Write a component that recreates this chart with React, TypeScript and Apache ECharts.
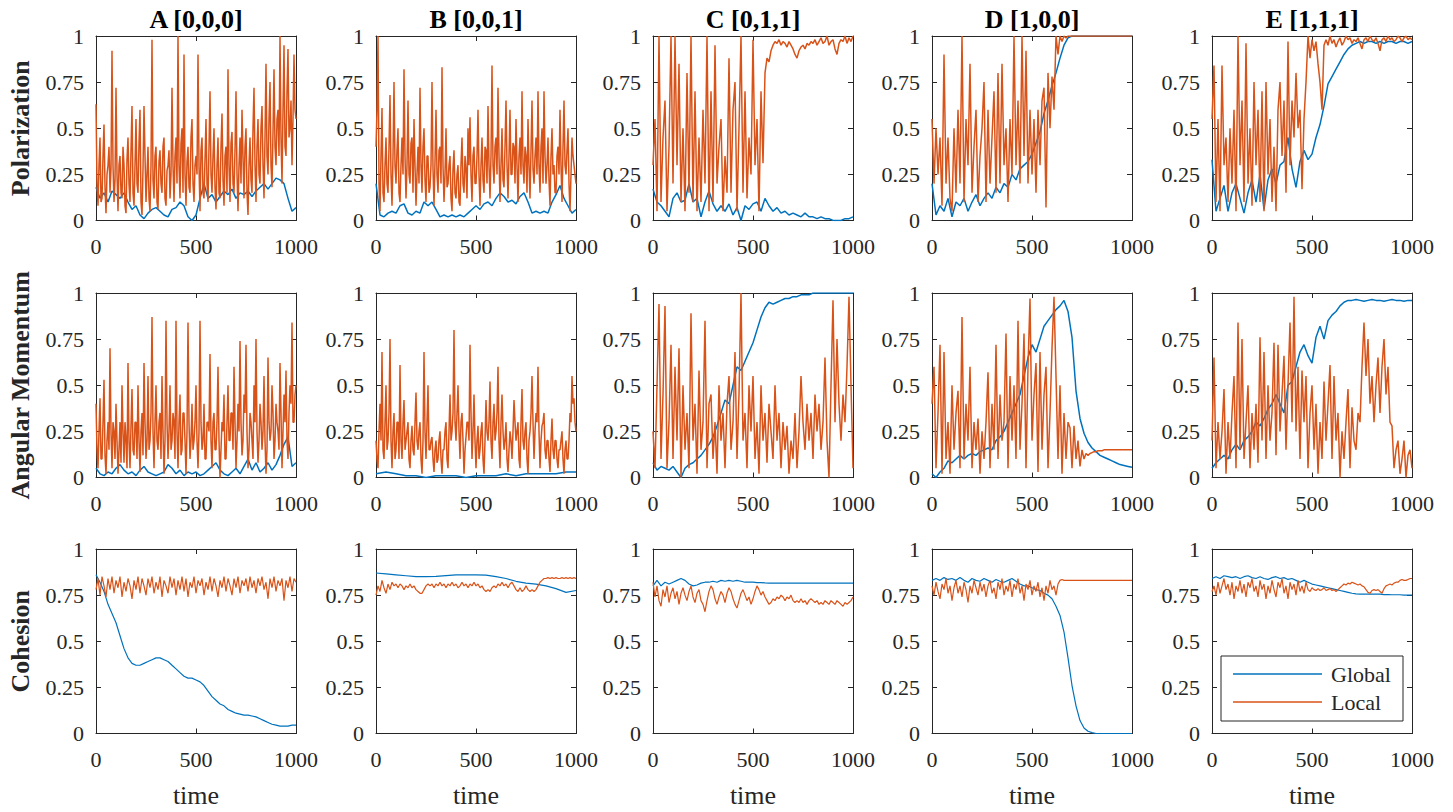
import React, { useEffect, useRef } from "react";
import * as echarts from "echarts";

const FONT = "Liberation Serif, Times New Roman, Times, serif";
const BLUE = "#0072BD";
const ORANGE = "#D95319";
const AXIS = "#262626";

const panelTitles = ["A [0,0,0]", "B [0,0,1]", "C [0,1,1]", "D [1,0,0]", "E [1,1,1]"];
const rowLabels = ["Polarization", "Angular Momentum", "Cohesion"];
const xLabel = "time";
const seriesNames = ["Global", "Local"];
const xRange = { min: 0, max: 1000, interval: 500 };
const yRange = { min: 0, max: 1, interval: 0.25 };

const A_pol_glob = [0.18,0.12,0.15,0.1,0.16,0.14,0.12,0.15,0.1,0.06,0.08,0.03,0.01,0.04,0.06,0.07,0.05,0.03,0.02,0.06,0.07,0.1,0.08,0.02,0.0,0.03,0.12,0.2,0.12,0.14,0.1,0.13,0.16,0.14,0.17,0.12,0.15,0.14,0.16,0.13,0.16,0.18,0.2,0.17,0.2,0.23,0.22,0.2,0.12,0.05,0.07];
const A_pol_loc = [0.63,0.2,0.08,0.3,0.45,0.1,0.12,0.35,0.52,0.18,0.04,0.25,0.3,0.4,0.15,0.28,0.92,0.3,0.1,0.22,
0.72,0.25,0.05,0.3,0.35,0.15,0.12,0.4,0.3,0.08,0.04,0.33,0.45,0.2,0.1,0.38,0.62,0.15,0.08,0.3,
0.55,0.2,0.15,0.42,0.6,0.1,0.03,0.28,0.62,0.35,0.1,0.25,0.4,0.12,0.05,0.3,0.98,0.22,0.12,0.35,
0.4,0.1,0.06,0.32,0.38,0.2,0.15,0.4,0.45,0.12,0.08,0.27,0.3,0.38,0.12,0.25,0.72,0.3,0.1,0.35,
0.45,0.2,1.0,0.3,0.12,0.42,0.5,0.15,0.9,0.25,0.08,0.32,0.4,0.18,0.15,0.45,0.55,0.2,0.1,0.3,
0.35,0.25,0.9,0.3,0.05,0.38,0.45,0.15,0.12,0.33,0.55,0.2,0.1,0.4,0.7,0.25,0.15,0.35,0.5,0.18,
0.06,0.3,0.45,0.15,0.12,0.4,0.58,0.22,0.08,0.35,0.4,0.15,0.82,0.3,0.1,0.42,0.48,0.2,0.15,0.38,
0.7,0.25,0.05,0.3,0.45,0.2,0.6,0.35,0.12,0.4,0.5,0.15,0.03,0.3,0.45,0.22,0.15,0.5,0.72,0.3,
0.1,0.4,0.55,0.25,0.2,0.5,0.62,0.3,0.12,0.45,0.85,0.35,0.25,0.55,0.75,0.3,0.18,0.48,0.82,0.4,
0.3,0.55,0.6,0.35,1.0,0.45,0.2,0.6,0.95,0.4,0.35,0.7,0.93,0.45,0.5,0.65,0.3,0.55,0.9,0.6,
0.55];
const B_pol_glob = [0.2,0.03,0.02,0.04,0.05,0.04,0.08,0.09,0.04,0.03,0.05,0.04,0.1,0.08,0.1,0.06,0.02,0.03,0.02,0.03,0.02,0.03,0.02,0.04,0.06,0.08,0.06,0.09,0.1,0.08,0.12,0.15,0.13,0.1,0.11,0.09,0.13,0.15,0.1,0.04,0.05,0.04,0.05,0.04,0.1,0.14,0.19,0.12,0.08,0.04,0.06];
const B_pol_loc = [0.4,0.6,1.0,0.2,0.05,0.35,0.61,0.15,0.1,0.3,0.45,0.2,0.15,0.4,0.68,0.25,0.08,0.35,0.75,0.3,
0.2,0.38,0.5,0.15,0.1,0.3,0.45,0.25,0.82,0.35,0.12,0.3,0.65,0.25,0.2,0.42,0.45,0.15,0.55,0.3,
0.08,0.25,0.4,0.2,0.72,0.3,0.15,0.4,0.5,0.22,0.1,0.35,0.35,0.15,0.18,0.3,0.75,0.28,0.08,0.32,
0.6,0.25,0.15,0.38,0.4,0.2,0.83,0.3,0.1,0.25,0.5,0.18,0.2,0.3,0.35,0.12,0.05,0.28,0.38,0.15,
0.12,0.25,0.3,0.1,0.08,0.3,0.45,0.2,0.15,0.35,0.28,0.12,0.5,0.3,0.56,0.25,0.1,0.35,0.4,0.2,
0.2,0.35,0.6,0.25,0.08,0.3,0.45,0.22,0.15,0.4,0.38,0.2,0.62,0.3,0.12,0.35,0.84,0.3,0.2,0.4,
0.45,0.25,0.72,0.35,0.1,0.3,0.5,0.22,0.18,0.4,0.65,0.3,0.12,0.35,0.6,0.25,0.25,0.42,0.4,0.2,
0.55,0.3,0.1,0.35,0.45,0.25,0.7,0.3,0.2,0.4,0.35,0.15,0.55,0.3,0.12,0.38,0.65,0.28,0.2,0.35,
0.45,0.25,0.7,0.3,0.15,0.4,0.5,0.2,0.7,0.35,0.2,0.3,0.45,0.22,0.08,0.35,0.5,0.25,0.3,0.15,
0.15,0.35,0.4,0.25,0.6,0.3,0.1,0.4,0.65,0.3,0.25,0.38,0.5,0.2,0.05,0.25,0.45,0.35,0.3,0.25,
0.2];
const C_pol_glob = [0.17,0.1,0.08,0.05,0.02,0.12,0.15,0.1,0.11,0.2,0.1,0.12,0.02,0.1,0.16,0.09,0.05,0.08,0.05,0.09,0.03,0.07,0.0,0.08,0.06,0.09,0.1,0.05,0.12,0.08,0.05,0.07,0.04,0.05,0.03,0.04,0.03,0.02,0.04,0.02,0.02,0.01,0.02,0.01,0.01,0.0,0.0,0.0,0.01,0.01,0.02];
const C_pol_loc = [0.3,0.55,0.05,1.0,0.1,0.45,0.65,0.05,0.4,1.0,0.2,1.0,0.3,0.85,0.1,0.5,0.05,0.8,0.15,1.0,0.1,0.7,0.05,0.45,0.1,0.6,0.2,1.0,0.05,0.7,0.1,0.95,0.2,0.4,0.55,0.05,0.35,0.15,0.88,0.15,0.6,0.75,0.05,0.5,1.0,0.15,0.7,0.12,0.45,0.25,0.98,0.3,0.55,0.05,0.7,0.31,0.8,0.88,0.86,0.92,0.95,0.97,0.96,0.98,0.95,0.97,0.96,0.94,0.97,0.95,0.93,0.9,0.88,0.92,0.94,0.95,0.93,0.96,0.95,0.97,0.96,0.98,0.95,0.97,0.99,0.96,0.97,1.0,0.95,0.97,0.98,0.93,0.9,0.96,0.98,0.97,1.0,0.96,0.99,0.97,1.0];
const D_pol_glob = [0.2,0.03,0.08,0.05,0.12,0.02,0.1,0.08,0.12,0.05,0.1,0.14,0.08,0.12,0.15,0.12,0.18,0.15,0.2,0.18,0.25,0.22,0.28,0.3,0.32,0.36,0.42,0.48,0.58,0.65,0.73,0.8,0.88,0.95,0.99,1.0,1.0,1.0,1.0,1.0,1.0,1.0,1.0,1.0,1.0,1.0,1.0,1.0,1.0,1.0,1.0];
const D_pol_loc = [0.55,0.2,0.5,0.25,0.45,0.08,0.9,0.2,0.45,0.12,0.05,0.5,0.15,0.6,0.2,1.0,0.1,0.55,0.3,0.85,0.15,0.4,0.6,0.1,0.35,0.5,0.75,0.1,0.6,0.2,0.45,0.7,0.15,0.8,0.2,0.85,0.3,0.5,0.1,0.55,0.25,1.0,0.3,0.65,0.2,1.0,0.35,0.92,0.2,0.6,0.25,0.55,0.15,0.6,0.3,0.65,0.72,0.07,0.8,0.5,0.78,0.6,1.0,0.9,1.0,0.97,1.0,0.99,1.0,1.0,1.0,1.0,1.0,1.0,1.0,1.0,1.0,1.0,1.0,1.0,1.0,1.0,1.0,1.0,1.0,1.0,1.0,1.0,1.0,1.0,1.0,1.0,1.0,1.0,1.0,1.0,1.0,1.0,1.0,1.0,1.0];
const E_pol_glob = [0.33,0.05,0.12,0.19,0.05,0.15,0.2,0.12,0.04,0.15,0.22,0.1,0.25,0.06,0.22,0.28,0.2,0.3,0.32,0.45,0.28,0.18,0.32,0.38,0.33,0.36,0.45,0.52,0.62,0.74,0.78,0.82,0.86,0.9,0.93,0.95,0.96,0.97,0.96,0.97,0.97,0.96,0.97,0.96,0.97,0.97,0.96,0.97,0.97,0.96,0.97];
const E_pol_loc = [0.55,0.84,0.1,0.55,0.05,0.84,0.3,0.45,0.1,0.5,0.2,0.6,0.05,1.0,0.3,0.65,0.1,0.96,0.2,0.5,0.08,0.75,0.3,0.6,0.1,0.7,0.05,0.75,0.25,0.55,0.1,0.4,0.05,0.6,0.75,0.35,0.65,0.15,0.97,0.3,0.65,0.45,0.8,0.5,0.6,0.17,0.55,0.75,1.0,0.88,0.98,0.92,0.97,0.85,0.75,0.6,0.95,0.98,0.95,1.0,0.96,0.98,0.94,0.97,0.99,0.95,0.97,1.0,0.98,0.99,0.96,0.98,0.97,0.99,0.96,0.93,0.98,0.99,0.97,1.0,0.98,0.97,0.99,0.96,0.92,0.98,0.99,0.97,1.0,0.98,0.99,0.97,0.98,1.0,0.99,0.97,0.99,1.0,0.98,0.99,0.98];

const A_ang_glob = [0.05,0.02,0.01,0.03,0.02,0.05,0.07,0.04,0.02,0.03,0.01,0.04,0.06,0.03,0.02,0.01,0.02,0.03,0.07,0.05,0.02,0.04,0.01,0.03,0.02,0.03,0.01,0.02,0.04,0.06,0.08,0.04,0.02,0.01,0.03,0.05,0.02,0.06,0.1,0.04,0.08,0.03,0.05,0.08,0.04,0.07,0.12,0.18,0.22,0.06,0.08];
const A_ang_loc = [0.4,0.15,0.05,0.25,0.43,0.1,0.1,0.3,0.53,0.12,0.02,0.2,0.3,0.15,0.7,0.25,0.05,0.3,0.25,0.1,
0.4,0.2,0.02,0.15,0.3,0.08,0.5,0.25,0.08,0.3,0.2,0.05,0.62,0.2,0.05,0.28,0.48,0.15,0.12,0.3,
0.3,0.1,0.5,0.2,0.03,0.25,0.35,0.12,0.62,0.3,0.1,0.2,0.55,0.15,0.2,0.35,0.87,0.25,0.05,0.3,
0.5,0.2,0.15,0.3,0.35,0.1,0.55,0.25,0.02,0.2,0.85,0.3,0.1,0.25,0.5,0.15,0.2,0.35,0.3,0.1,
0.85,0.25,0.05,0.3,0.45,0.12,0.15,0.35,0.35,0.2,0.02,0.25,0.84,0.3,0.1,0.2,0.4,0.15,0.2,0.3,
0.5,0.2,0.05,0.25,0.85,0.3,0.15,0.2,0.4,0.1,0.1,0.3,0.3,0.25,0.67,0.2,0.05,0.3,0.35,0.15,
0.15,0.3,0.6,0.2,0.0,0.15,0.3,0.25,0.45,0.1,0.1,0.3,0.5,0.2,0.2,0.35,0.35,0.15,0.6,0.3,
0.05,0.2,0.4,0.25,0.74,0.3,0.12,0.2,0.45,0.35,0.72,0.25,0.05,0.15,0.35,0.3,0.2,0.1,0.5,0.3,
0.75,0.25,0.08,0.2,0.4,0.3,0.15,0.25,0.55,0.2,0.02,0.15,0.65,0.3,0.2,0.25,0.5,0.35,0.1,0.2,
0.4,0.3,0.25,0.15,0.62,0.35,0.05,0.25,0.45,0.3,0.58,0.2,0.1,0.35,0.5,0.4,0.84,0.3,0.3,0.45,
0.5];
const B_ang_glob = [0.02,0.03,0.02,0.01,0.01,0.0,0.01,0.01,0.01,0.0,0.01,0.01,0.01,0.02,0.01,0.02,0.02,0.02,0.02,0.03,0.03];
const B_ang_loc = [0.2,0.1,0.05,0.25,0.4,0.2,0.68,0.15,0.1,0.3,0.5,0.15,0.2,0.35,0.75,0.2,0.05,0.25,0.35,0.1,
0.15,0.3,0.3,0.1,0.61,0.2,0.1,0.3,0.42,0.15,0.2,0.25,0.3,0.1,0.05,0.2,0.28,0.15,0.12,0.3,
0.46,0.2,0.15,0.25,0.3,0.1,0.02,0.2,0.68,0.25,0.1,0.3,0.5,0.15,0.15,0.2,0.22,0.1,0.03,0.15,
0.2,0.08,0.1,0.2,0.25,0.1,0.02,0.15,0.15,0.25,0.3,0.1,0.05,0.25,0.45,0.2,0.25,0.35,0.8,0.3,
0.2,0.35,0.5,0.25,0.1,0.3,0.35,0.2,0.02,0.15,0.22,0.3,0.3,0.2,0.72,0.35,0.1,0.25,0.45,0.2,
0.05,0.2,0.28,0.1,0.15,0.25,0.3,0.1,0.02,0.2,0.42,0.25,0.2,0.3,0.52,0.2,0.1,0.3,0.4,0.2,
0.25,0.35,0.6,0.2,0.05,0.3,0.45,0.25,0.15,0.2,0.3,0.1,0.03,0.15,0.25,0.2,0.1,0.25,0.42,0.3,
0.2,0.25,0.3,0.1,0.05,0.3,0.48,0.2,0.15,0.25,0.3,0.1,0.02,0.2,0.25,0.35,0.55,0.3,0.1,0.25,
0.35,0.3,0.6,0.25,0.05,0.2,0.28,0.3,0.35,0.15,0.1,0.2,0.2,0.1,0.03,0.2,0.32,0.15,0.1,0.2,
0.2,0.1,0.05,0.15,0.15,0.2,0.25,0.1,0.02,0.15,0.2,0.1,0.1,0.2,0.35,0.3,0.55,0.4,0.43,0.3,
0.25];
const C_ang_glob = [0.08,0.04,0.06,0.05,0.04,0.06,0.03,0.0,0.05,0.07,0.08,0.1,0.12,0.15,0.18,0.22,0.28,0.35,0.42,0.4,0.5,0.6,0.58,0.63,0.68,0.73,0.8,0.87,0.92,0.95,0.94,0.95,0.96,0.97,0.97,0.98,0.98,0.99,0.99,0.99,1.0,1.0,1.0,1.0,1.0,1.0,1.0,1.0,1.0,1.0,1.0];
const C_ang_loc = [0.25,0.05,0.5,0.94,0.1,0.45,0.93,0.05,0.3,0.72,0.1,0.6,0.2,0.7,0.0,0.5,0.15,0.35,0.05,0.89,0.2,0.4,0.02,0.58,0.15,0.3,0.85,0.05,0.4,0.45,0.1,0.3,0.02,0.5,0.2,0.35,0.05,0.4,0.55,0.15,0.3,0.68,0.1,0.45,1.0,0.2,0.35,0.05,0.5,0.25,0.55,0.1,0.3,0.02,0.5,0.2,0.35,0.08,0.4,0.25,0.1,0.5,0.2,0.35,0.05,0.3,0.15,0.28,0.02,0.2,0.1,0.35,0.05,0.25,0.55,0.3,0.15,0.4,0.2,0.35,0.1,0.45,0.25,0.4,0.15,0.3,0.65,0.2,0.0,0.5,0.96,0.3,0.75,0.4,0.2,0.45,0.3,0.6,0.98,0.5,0.05];
const D_ang_glob = [0.02,0.0,0.03,0.05,0.09,0.08,0.1,0.12,0.1,0.12,0.13,0.12,0.14,0.15,0.16,0.15,0.2,0.22,0.25,0.3,0.35,0.4,0.45,0.55,0.65,0.72,0.68,0.75,0.82,0.85,0.88,0.91,0.93,0.96,0.9,0.76,0.47,0.32,0.24,0.19,0.16,0.14,0.12,0.11,0.1,0.09,0.08,0.07,0.065,0.06,0.055];
const D_ang_loc = [0.4,0.6,0.05,0.35,0.72,0.02,0.68,0.1,0.3,0.02,0.5,0.15,0.35,0.47,0.05,0.87,0.1,0.4,0.2,0.6,0.05,0.3,0.15,0.32,0.02,0.25,0.1,0.3,0.57,0.05,0.4,0.15,0.72,0.1,0.45,0.2,0.3,0.78,0.05,0.55,0.2,0.5,0.1,0.85,0.15,0.4,0.78,0.05,0.6,0.97,0.2,0.45,0.62,0.03,0.68,0.15,0.45,0.6,0.05,0.35,0.7,0.98,0.55,0.1,0.5,0.02,0.35,0.1,0.3,0.27,0.05,0.28,0.1,0.2,0.06,0.15,0.1,0.13,0.12,0.13,0.135,0.14,0.14,0.145,0.145,0.145,0.15,0.15,0.15,0.15,0.15,0.15,0.15,0.15,0.15,0.15,0.15,0.15,0.15,0.15,0.15];
const E_ang_glob = [0.05,0.08,0.1,0.12,0.1,0.15,0.18,0.15,0.2,0.22,0.25,0.3,0.28,0.32,0.37,0.4,0.45,0.4,0.35,0.5,0.52,0.6,0.68,0.72,0.66,0.62,0.76,0.82,0.75,0.85,0.88,0.9,0.93,0.95,0.96,0.96,0.965,0.96,0.955,0.96,0.965,0.96,0.96,0.955,0.96,0.965,0.96,0.96,0.955,0.96,0.96];
const E_ang_loc = [0.2,0.65,0.05,0.3,0.1,0.25,0.48,0.02,0.3,0.1,0.35,0.55,0.05,0.84,0.15,0.75,0.1,0.3,0.5,0.05,0.35,0.15,0.4,0.08,0.76,0.2,0.68,0.1,0.5,0.2,0.35,0.73,0.12,0.72,0.25,0.45,0.66,0.15,0.5,0.84,0.3,0.98,0.25,0.6,0.1,0.58,0.3,0.55,0.05,0.35,0.5,0.15,0.4,0.02,0.3,0.1,0.52,0.2,0.4,0.61,0.1,0.55,0.2,0.35,0.0,0.25,0.1,0.3,0.48,0.05,0.38,0.2,0.15,0.35,0.3,0.6,0.84,0.55,0.75,0.4,0.55,0.3,0.5,0.65,0.35,0.6,0.75,0.45,0.6,0.3,0.28,0.05,0.15,0.2,0.02,0.1,0.2,0.0,0.12,0.15,0.05];

const A_coh_glob = [0.86,0.82,0.77,0.7,0.65,0.6,0.53,0.46,0.41,0.38,0.37,0.37,0.38,0.39,0.4,0.41,0.41,0.4,0.39,0.37,0.35,0.33,0.31,0.3,0.3,0.29,0.28,0.26,0.23,0.2,0.18,0.16,0.15,0.13,0.12,0.11,0.105,0.1,0.1,0.095,0.09,0.08,0.07,0.06,0.05,0.045,0.04,0.04,0.04,0.045,0.045];
const A_coh_loc = [0.78,0.84,0.75,0.85,0.8,0.74,0.84,0.78,0.85,0.76,0.83,0.79,0.85,0.74,0.82,0.77,0.84,0.8,0.73,0.83,0.78,0.85,0.76,0.84,0.8,0.75,0.84,0.79,0.85,0.76,0.82,0.78,0.85,0.74,0.83,0.8,0.76,0.85,0.79,0.84,0.75,0.83,0.78,0.85,0.77,0.84,0.74,0.82,0.79,0.85,0.76,0.83,0.8,0.84,0.75,0.82,0.78,0.85,0.77,0.84,0.8,0.74,0.83,0.79,0.85,0.77,0.84,0.8,0.75,0.84,0.79,0.85,0.76,0.83,0.8,0.84,0.77,0.85,0.79,0.83,0.76,0.84,0.8,0.85,0.78,0.82,0.73,0.84,0.79,0.85,0.77,0.83,0.8,0.84,0.72,0.83,0.79,0.85,0.77,0.84,0.82];
const B_coh_glob = [0.87,0.865,0.86,0.855,0.85,0.85,0.852,0.856,0.86,0.86,0.86,0.858,0.85,0.84,0.825,0.815,0.81,0.8,0.785,0.765,0.775];
const B_coh_loc = [0.75,0.8,0.77,0.83,0.79,0.76,0.81,0.78,0.82,0.8,0.81,0.79,0.81,0.8,0.78,0.8,0.79,0.81,0.79,0.8,0.78,0.77,0.76,0.76,0.78,0.8,0.81,0.8,0.81,0.79,0.81,0.8,0.82,0.8,0.81,0.79,0.81,0.8,0.82,0.8,0.81,0.79,0.8,0.82,0.8,0.81,0.79,0.81,0.8,0.82,0.8,0.81,0.79,0.8,0.78,0.77,0.78,0.77,0.79,0.8,0.79,0.81,0.8,0.82,0.8,0.81,0.79,0.81,0.82,0.8,0.78,0.77,0.79,0.77,0.78,0.8,0.78,0.77,0.78,0.77,0.78,0.8,0.82,0.83,0.84,0.84,0.845,0.84,0.845,0.84,0.845,0.84,0.84,0.845,0.84,0.845,0.84,0.845,0.84,0.845,0.84];
const C_coh_glob = [0.8,0.83,0.8,0.82,0.81,0.82,0.83,0.84,0.83,0.81,0.8,0.805,0.815,0.82,0.82,0.825,0.82,0.83,0.825,0.83,0.825,0.83,0.825,0.82,0.82,0.82,0.818,0.818,0.816,0.815,0.815,0.815,0.815,0.815,0.815,0.815,0.815,0.815,0.815,0.815,0.815,0.815,0.815,0.815,0.815,0.815,0.815,0.815,0.815,0.815,0.815];
const C_coh_loc = [0.82,0.74,0.8,0.72,0.69,0.78,0.74,0.8,0.71,0.76,0.79,0.73,0.77,0.7,0.76,0.79,0.75,0.72,0.77,0.8,0.74,0.71,0.76,0.78,0.72,0.7,0.66,0.72,0.77,0.8,0.78,0.73,0.7,0.74,0.77,0.75,0.71,0.76,0.79,0.77,0.73,0.7,0.68,0.72,0.76,0.78,0.75,0.72,0.74,0.7,0.73,0.77,0.8,0.78,0.75,0.77,0.74,0.72,0.7,0.71,0.73,0.72,0.74,0.73,0.75,0.74,0.72,0.74,0.73,0.75,0.72,0.71,0.72,0.71,0.73,0.71,0.72,0.7,0.72,0.73,0.72,0.71,0.72,0.7,0.71,0.7,0.72,0.71,0.7,0.72,0.71,0.7,0.72,0.71,0.7,0.69,0.71,0.7,0.71,0.72,0.74];
const D_coh_glob = [0.83,0.84,0.83,0.845,0.835,0.84,0.83,0.845,0.83,0.82,0.84,0.83,0.825,0.84,0.83,0.82,0.835,0.825,0.82,0.83,0.84,0.825,0.81,0.8,0.8,0.79,0.78,0.775,0.76,0.75,0.73,0.69,0.64,0.55,0.41,0.26,0.15,0.07,0.03,0.012,0.005,0.0,0.0,0.0,0.0,0.0,0.0,0.0,0.0,0.0,0.0];
const D_coh_loc = [0.8,0.75,0.82,0.77,0.73,0.81,0.78,0.84,0.76,0.8,0.72,0.79,0.83,0.76,0.8,0.74,0.82,0.78,0.71,0.8,0.76,0.83,0.79,0.75,0.82,0.77,0.81,0.74,0.8,0.83,0.76,0.79,0.73,0.82,0.78,0.84,0.75,0.8,0.77,0.83,0.74,0.81,0.78,0.84,0.76,0.8,0.72,0.81,0.78,0.83,0.75,0.8,0.77,0.82,0.74,0.79,0.72,0.8,0.76,0.83,0.78,0.8,0.75,0.81,0.83,0.835,0.83,0.83,0.83,0.83,0.83,0.83,0.83,0.83,0.83,0.83,0.83,0.83,0.83,0.83,0.83,0.83,0.83,0.83,0.83,0.83,0.83,0.83,0.83,0.83,0.83,0.83,0.83,0.83,0.83,0.83,0.83,0.83,0.83,0.83,0.83];
const E_coh_glob = [0.84,0.85,0.84,0.855,0.85,0.845,0.85,0.84,0.85,0.855,0.845,0.84,0.85,0.84,0.835,0.845,0.85,0.84,0.845,0.835,0.84,0.83,0.82,0.83,0.82,0.81,0.805,0.8,0.795,0.79,0.785,0.78,0.775,0.77,0.765,0.76,0.757,0.755,0.755,0.755,0.755,0.755,0.755,0.753,0.753,0.752,0.752,0.752,0.75,0.75,0.75];
const E_coh_loc = [0.77,0.8,0.75,0.82,0.76,0.8,0.84,0.78,0.81,0.75,0.82,0.73,0.8,0.77,0.83,0.76,0.81,0.74,0.82,0.79,0.84,0.77,0.8,0.74,0.83,0.78,0.81,0.73,0.8,0.76,0.83,0.78,0.74,0.82,0.79,0.84,0.76,0.8,0.73,0.82,0.78,0.81,0.75,0.83,0.77,0.8,0.76,0.82,0.78,0.77,0.79,0.78,0.775,0.785,0.775,0.78,0.79,0.775,0.78,0.785,0.775,0.78,0.77,0.78,0.79,0.8,0.81,0.805,0.815,0.81,0.82,0.815,0.81,0.805,0.81,0.8,0.795,0.78,0.765,0.76,0.775,0.78,0.775,0.78,0.77,0.76,0.785,0.8,0.805,0.81,0.805,0.815,0.82,0.82,0.83,0.835,0.83,0.83,0.835,0.84,0.84];

const globalSeries = [
  [A_pol_glob, B_pol_glob, C_pol_glob, D_pol_glob, E_pol_glob],
  [A_ang_glob, B_ang_glob, C_ang_glob, D_ang_glob, E_ang_glob],
  [A_coh_glob, B_coh_glob, C_coh_glob, D_coh_glob, E_coh_glob],
];
const localSeries = [
  [A_pol_loc, B_pol_loc, C_pol_loc, D_pol_loc, E_pol_loc],
  [A_ang_loc, B_ang_loc, C_ang_loc, D_ang_loc, E_ang_loc],
  [A_coh_loc, B_coh_loc, C_coh_loc, D_coh_loc, E_coh_loc],
];

// layout (pixels)
const GRID_LEFT = [96, 376, 653, 932, 1212];
const GRID_TOP = [36, 293, 549];
const GRID_W = 200;
const GRID_H = 184.5;
const ROW_LINE_W = [1.5, 1.5, 1.2];

function toPoints(vals: number[]) {
  const n = vals.length;
  return vals.map((v, i) => [xRange.min + (i * (xRange.max - xRange.min)) / (n - 1), v]);
}

export default function App() {
  const ref = useRef<HTMLDivElement>(null);
  useEffect(() => {
    const chart = echarts.init(ref.current!, null, { renderer: "svg" });
    const grid: any[] = [];
    const xAxis: any[] = [];
    const yAxis: any[] = [];
    const series: any[] = [];
    const graphic: any[] = [];
    const lineStyle = { color: AXIS, width: 1 };
    const tickFont = { color: AXIS, fontFamily: FONT, fontSize: 22 };
    const fmt = (v: number) => String(v);

    for (let r = 0; r < 3; r++) {
      for (let c = 0; c < 5; c++) {
        const g = r * 5 + c;
        grid.push({ left: GRID_LEFT[c], top: GRID_TOP[r], width: GRID_W, height: GRID_H, containLabel: false });
        for (const pos of ["bottom", "top"]) {
          xAxis.push({
            type: "value", gridIndex: g, position: pos,
            min: xRange.min, max: xRange.max, interval: xRange.interval,
            axisLine: { show: true, onZero: false, lineStyle },
            axisTick: { show: true, inside: true, length: 5, lineStyle },
            axisLabel: { show: pos === "bottom", margin: 15, formatter: fmt, ...tickFont },
            splitLine: { show: false },
          });
        }
        for (const pos of ["left", "right"]) {
          yAxis.push({
            type: "value", gridIndex: g, position: pos,
            min: yRange.min, max: yRange.max, interval: yRange.interval,
            axisLine: { show: true, onZero: false, lineStyle },
            axisTick: { show: true, inside: true, length: 5, lineStyle },
            axisLabel: { show: pos === "left", margin: 12, formatter: fmt, ...tickFont },
            splitLine: { show: false },
          });
        }
        series.push({
          type: "line", name: seriesNames[0], xAxisIndex: 2 * g, yAxisIndex: 2 * g,
          data: toPoints(globalSeries[r][c]), symbol: "none", showSymbol: false,
          lineStyle: { color: BLUE, width: ROW_LINE_W[r] }, itemStyle: { color: BLUE }, silent: true, z: 2,
        });
        series.push({
          type: "line", name: seriesNames[1], xAxisIndex: 2 * g, yAxisIndex: 2 * g,
          data: toPoints(localSeries[r][c]), symbol: "none", showSymbol: false,
          lineStyle: { color: ORANGE, width: ROW_LINE_W[r] }, itemStyle: { color: ORANGE }, silent: true, z: 3,
        });
      }
    }

    for (let c = 0; c < 5; c++) {
      const cx = GRID_LEFT[c] + GRID_W / 2;
      graphic.push({
        type: "text", x: cx, y: 19, silent: true,
        style: { text: panelTitles[c], fill: "#000", font: `bold 26px ${FONT}`, align: "center", verticalAlign: "middle" },
      });
      graphic.push({
        type: "text", x: cx, y: 795, silent: true,
        style: { text: xLabel, fill: AXIS, font: `26px ${FONT}`, align: "center", verticalAlign: "middle" },
      });
    }
    for (let r = 0; r < 3; r++) {
      graphic.push({
        type: "text", x: 20, y: GRID_TOP[r] + GRID_H / 2, rotation: Math.PI / 2, silent: true,
        style: { text: rowLabels[r], fill: AXIS, font: `bold 26px ${FONT}`, align: "center", verticalAlign: "middle" },
      });
    }
    graphic.push({
      type: "group", z: 100, silent: true,
      children: [
        { type: "rect", shape: { x: 1221, y: 656, width: 182, height: 65 }, style: { fill: "#fff", stroke: AXIS, lineWidth: 1 } },
        { type: "line", shape: { x1: 1233, y1: 674, x2: 1322, y2: 674 }, style: { stroke: BLUE, lineWidth: 1.3 } },
        { type: "line", shape: { x1: 1233, y1: 702, x2: 1322, y2: 702 }, style: { stroke: ORANGE, lineWidth: 1.3 } },
        { type: "text", x: 1331, y: 674, style: { text: seriesNames[0], fill: AXIS, font: `22px ${FONT}`, align: "left", verticalAlign: "middle" } },
        { type: "text", x: 1331, y: 702, style: { text: seriesNames[1], fill: AXIS, font: `22px ${FONT}`, align: "left", verticalAlign: "middle" } },
      ],
    });

    chart.setOption({
      animation: false,
      backgroundColor: "#ffffff",
      grid, xAxis, yAxis, series, graphic,
    });
    return () => chart.dispose();
  }, []);
  return (
    <div
      ref={ref}
      style={{ position: "absolute", left: 0, top: 0, width: 1453, height: 812, background: "#fff" }}
    />
  );
}
